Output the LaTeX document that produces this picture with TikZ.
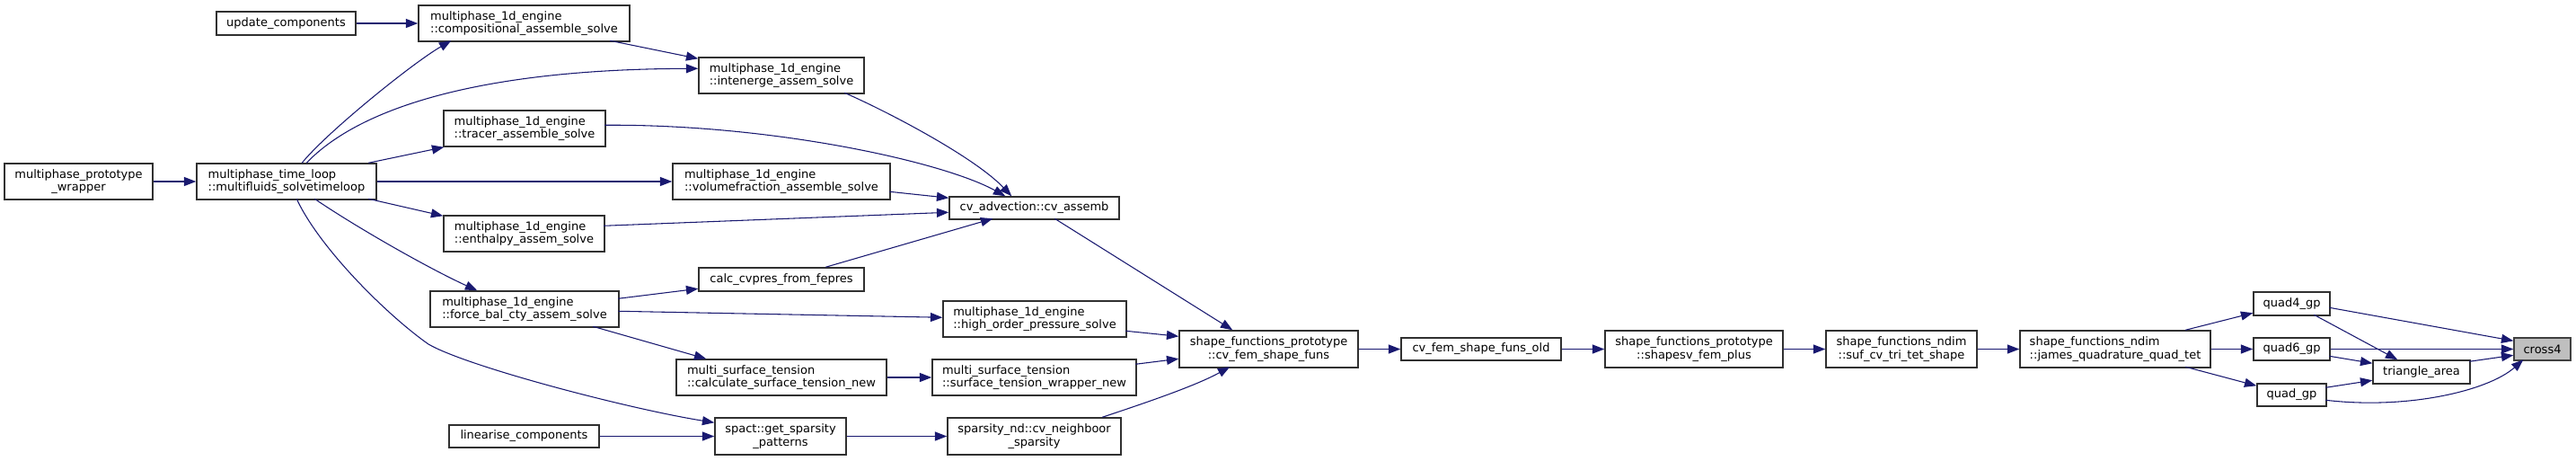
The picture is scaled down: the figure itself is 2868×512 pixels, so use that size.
\documentclass[tikz,border=0pt]{standalone}
\usepackage{fontspec}
\setmainfont{DejaVu Sans}
\usetikzlibrary{arrows.meta,calc}
\definecolor{edgec}{HTML}{191970}
\definecolor{boxc}{HTML}{303030}
\definecolor{curfill}{HTML}{BFBFBF}
\definecolor{curdraw}{HTML}{404040}
\begin{document}
\begin{tikzpicture}[x=0.75pt,y=-0.75pt,
  box/.style={draw=boxc,line width=1.1pt,fill=white,inner sep=0pt,
    font=\fontsize{9.75pt}{11pt}\selectfont},
  bl/.style={box,align=left},
  bc/.style={box,align=center},
  cur/.style={box,draw=curdraw,fill=curfill},
  e/.style={draw=edgec,line width=0.8pt,-{Triangle[length=10pt,width=7.5pt]}}]
\useasboundingbox (0,0) rectangle (2868,512);
% nodes
\node[bc,minimum width=155*0.75pt,minimum height=26*0.75pt] (upd) at (318.5,26) {update\_components};
\node[bl,minimum width=235*0.75pt,minimum height=40*0.75pt] (comp) at (583.5,26) {multiphase\_1d\_engine\\::compositional\_assemble\_solve};
\node[bl,minimum width=180*0.75pt,minimum height=40*0.75pt] (tracer) at (584,143) {multiphase\_1d\_engine\\::tracer\_assemble\_solve};
\node[bc,minimum width=165*0.75pt,minimum height=40*0.75pt] (wrap) at (87.5,202) {multiphase\_prototype\\\_wrapper};
\node[bl,minimum width=200*0.75pt,minimum height=40*0.75pt] (loop) at (319,202) {multiphase\_time\_loop\\::multifluids\_solvetimeloop};
\node[bl,minimum width=179*0.75pt,minimum height=40*0.75pt] (enth) at (583.5,260) {multiphase\_1d\_engine\\::enthalpy\_assem\_solve};
\node[bl,minimum width=210*0.75pt,minimum height=40*0.75pt] (force) at (584,344) {multiphase\_1d\_engine\\::force\_bal\_cty\_assem\_solve};
\node[bc,minimum width=167*0.75pt,minimum height=25*0.75pt] (lin) at (583.5,485.5) {linearise\_components};
\node[bl,minimum width=184*0.75pt,minimum height=40*0.75pt] (inten) at (870,84) {multiphase\_1d\_engine\\::intenerge\_assem\_solve};
\node[bl,minimum width=242*0.75pt,minimum height=40*0.75pt] (vol) at (870,202) {multiphase\_1d\_engine\\::volumefraction\_assemble\_solve};
\node[bc,minimum width=189*0.75pt,minimum height=25*0.75pt] (assemb) at (1151.5,231.5) {cv\_advection::cv\_assemb};
\node[bc,minimum width=184*0.75pt,minimum height=26*0.75pt] (calc) at (870,311) {calc\_cvpres\_from\_fepres};
\node[bl,minimum width=204*0.75pt,minimum height=40*0.75pt] (high) at (1152,355) {multiphase\_1d\_engine\\::high\_order\_pressure\_solve};
\node[bl,minimum width=234*0.75pt,minimum height=40*0.75pt] (calcst) at (870,420) {multi\_surface\_tension\\::calculate\_surface\_tension\_new};
\node[bl,minimum width=227*0.75pt,minimum height=40*0.75pt] (stw) at (1151.5,420) {multi\_surface\_tension\\::surface\_tension\_wrapper\_new};
\node[bc,minimum width=146*0.75pt,minimum height=41*0.75pt] (sparsity) at (869,485.5) {spact::get\_sparsity\\\_patterns};
\node[bc,minimum width=193*0.75pt,minimum height=41*0.75pt] (neigh) at (1151.5,485.5) {sparsity\_nd::cv\_neighboor\\\_sparsity};
\node[bc,minimum width=199*0.75pt,minimum height=41*0.75pt] (cvfem) at (1412.5,388.5) {shape\_functions\_prototype\\::cv\_fem\_shape\_funs};
\node[bc,minimum width=178*0.75pt,minimum height=25*0.75pt] (old) at (1649,388.5) {cv\_fem\_shape\_funs\_old};
\node[bc,minimum width=198*0.75pt,minimum height=41*0.75pt] (shapesv) at (1886,388.5) {shape\_functions\_prototype\\::shapesv\_fem\_plus};
\node[bc,minimum width=168*0.75pt,minimum height=41*0.75pt] (suf) at (2117,388.5) {shape\_functions\_ndim\\::suf\_cv\_tri\_tet\_shape};
\node[bl,minimum width=212*0.75pt,minimum height=41*0.75pt] (james) at (2355,388.5) {shape\_functions\_ndim\\::james\_quadrature\_quad\_tet};
\node[bc,minimum width=85*0.75pt,minimum height=26*0.75pt] (q4) at (2551.5,338) {quad4\_gp};
\node[bc,minimum width=85*0.75pt,minimum height=25*0.75pt] (q6) at (2551.5,388.5) {quad6\_gp};
\node[bc,minimum width=77*0.75pt,minimum height=25*0.75pt] (qgp) at (2551.5,439.5) {quad\_gp};
\node[bc,minimum width=108*0.75pt,minimum height=26*0.75pt] (tri) at (2696,414) {triangle\_area};
\node[cur,minimum width=63*0.75pt,minimum height=25*0.75pt] (cross) at (2830.5,388.5) {cross4};
% edges
\draw[e] (upd) -- (comp);
\draw[e] (wrap) -- (loop);
\draw[e] ($(loop.north west)+(118,0)$) .. controls (362,149) and (458,71) .. ($(comp.north west)+(37,40)$);
\draw[e] ($(comp.north west)+(214,40)$) -- ($(inten.north west)+(0,2)$);
\draw[e] ($(loop.north west)+(123,0)$) .. controls (402,118) and (540,77) .. ($(inten.north west)+(0,13)$);
\draw[e] ($(tracer.north west)+(180,17)$) .. controls (860,138) and (1050,180) .. ($(assemb.north west)+(63,0)$);
\draw[e] ($(inten.north west)+(163,40)$) .. controls (990,125) and (1085,175) .. ($(assemb.north west)+(70,0)$);
\draw[e] ($(loop.north west)+(192,0)$) -- ($(tracer.south west)+(1,0)$);
\draw[e] (loop) -- (vol);
\draw[e] ($(loop.north west)+(192,40)$) -- ($(enth.north west)+(0,1)$);
\draw[e] ($(loop.north west)+(132,40)$) .. controls (400,255) and (480,300) .. ($(force.north west)+(53,0)$);
\draw[e] ($(loop.north west)+(112,40)$) .. controls (355,275) and (430,350) .. (477,383) .. controls (520,408) and (700,455) .. ($(sparsity.north west)+(0,6)$);
\draw[e] ($(vol.north west)+(242,32)$) -- ($(assemb.north west)+(0,2)$);
\draw[e] ($(enth.north west)+(179,12)$) -- ($(assemb.north west)+(0,18)$);
\draw[e] ($(calc.north west)+(142,0)$) -- ($(assemb.north west)+(49,25)$);
\draw[e] ($(force.north west)+(210,9)$) -- ($(calc.north west)+(0,24)$);
\draw[e] ($(force.north west)+(210,23)$) -- ($(high.north west)+(0,19)$);
\draw[e] ($(force.north west)+(182,40)$) -- ($(calcst.north west)+(34,0)$);
\draw[e] (lin) -- (sparsity);
\draw[e] ($(assemb.north west)+(118,25)$) -- ($(cvfem.north west)+(60,0)$);
\draw[e] ($(high.north west)+(204,34)$) -- ($(cvfem.north west)+(0,7)$);
\draw[e] (calcst) -- (stw);
\draw[e] ($(stw.north west)+(227,6)$) -- ($(cvfem.north west)+(0,32)$);
\draw[e] (sparsity) -- (neigh);
\draw[e] ($(neigh.north west)+(173,0)$) .. controls (1270,450) and (1330,430) .. ($(cvfem.north west)+(57,41)$);
\draw[e] (cvfem) -- (old);
\draw[e] (old) -- (shapesv);
\draw[e] (shapesv) -- (suf);
\draw[e] (suf) -- (james);
\draw[e] ($(james.north west)+(185,0)$) -- ($(q4.north west)+(0,24)$);
\draw[e] (james) -- (q6);
\draw[e] ($(james.north west)+(185,41)$) -- ($(qgp.north west)+(0,3)$);
\draw[e] ($(q4.north west)+(85,18)$) -- ($(cross.north west)+(0,4)$);
\draw[e] ($(q4.north west)+(68,26)$) -- ($(tri.north west)+(28,0)$);
\draw[e] (q6) -- (cross);
\draw[e] ($(q6.north west)+(85,21)$) -- ($(tri.north west)+(0,4)$);
\draw[e] ($(qgp.north west)+(77,5)$) -- ($(tri.north west)+(0,23)$);
\draw[e] ($(tri.north west)+(108,2)$) -- ($(cross.north west)+(0,20)$);
\draw[e] ($(qgp.north west)+(77,19)$) .. controls (2680,456) and (2770,435) .. ($(cross.north west)+(11,25)$);
\end{tikzpicture}
\end{document}
